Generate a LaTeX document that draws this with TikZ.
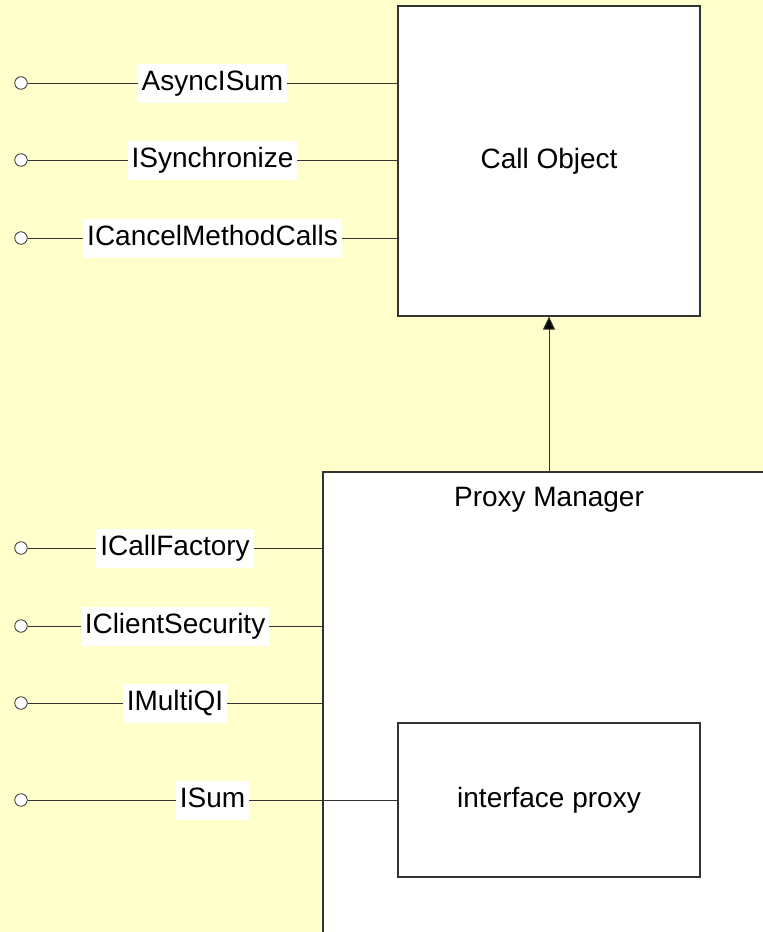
\documentclass[tikz,border=0pt]{standalone}
\usepackage{fontspec}
\setmainfont{Liberation Sans}
\usetikzlibrary{arrows.meta}
\definecolor{paper}{HTML}{FFFFCC}
\definecolor{ink}{HTML}{333333}
\tikzset{
  box/.style={draw=ink, line width=1.2pt, fill=white, rectangle, inner sep=0pt},
  lolly/.style={draw=ink, line width=0.8pt, fill=white, circle, minimum size=12.5pt, inner sep=0pt},
  wire/.style={draw=ink, line width=1pt},
  iface/.style={fill=white, inner xsep=4pt, inner ysep=6.5pt, text height=20pt, text depth=6pt},
  title/.style={inner sep=0pt},
  every node/.style={font=\fontsize{28}{33}\selectfont}
}
\begin{document}
\begin{tikzpicture}[x=1pt, y=-1pt]
  \useasboundingbox (0,0) rectangle (763,932);
  \fill[paper] (0,0) rectangle (763,932);
  \clip (0,0) rectangle (763,932);

  % components
  \node[box, minimum width=302pt, minimum height=310pt] (co) at (549,161) {};
  \node[title] (cotitle) at (549,161) {Call Object};
  \node[box, minimum width=452pt, minimum height=473pt] (pm) at (549,708.5) {};
  \node[title] (pmtitle) at (549,500) {Proxy Manager};
  \node[box, minimum width=302pt, minimum height=154pt] (ip) at (549,800) {};
  \node[title] (iptitle) at (549,800) {interface proxy};

  % activation arrow
  \draw[wire, -{Triangle[length=13pt, width=12pt, fill=black]}] (pm.north) -- (co.south);

  % lollipops
  \node[lolly] (c1) at (21,83) {};
  \node[lolly] (c2) at (21,160) {};
  \node[lolly] (c3) at (21,238) {};
  \node[lolly] (c4) at (21,548) {};
  \node[lolly] (c5) at (21,626) {};
  \node[lolly] (c6) at (21,703) {};
  \node[lolly] (c7) at (21,800) {};

  % interface wires with labels
  \draw[wire] (c1.east) -- node[iface] (l1) {AsyncISum} (c1 -| co.west);
  \draw[wire] (c2.east) -- node[iface] (l2) {ISynchronize} (c2 -| co.west);
  \draw[wire] (c3.east) -- node[iface] (l3) {ICancelMethodCalls} (c3 -| co.west);
  \draw[wire] (c4.east) -- node[iface] (l4) {ICallFactory} (c4 -| pm.west);
  \draw[wire] (c5.east) -- node[iface] (l5) {IClientSecurity} (c5 -| pm.west);
  \draw[wire] (c6.east) -- node[iface] (l6) {IMultiQI} (c6 -| pm.west);
  \draw[wire] (c7.east) -- node[iface] (l7) {ISum} (c7 -| ip.west);
\end{tikzpicture}
\end{document}
